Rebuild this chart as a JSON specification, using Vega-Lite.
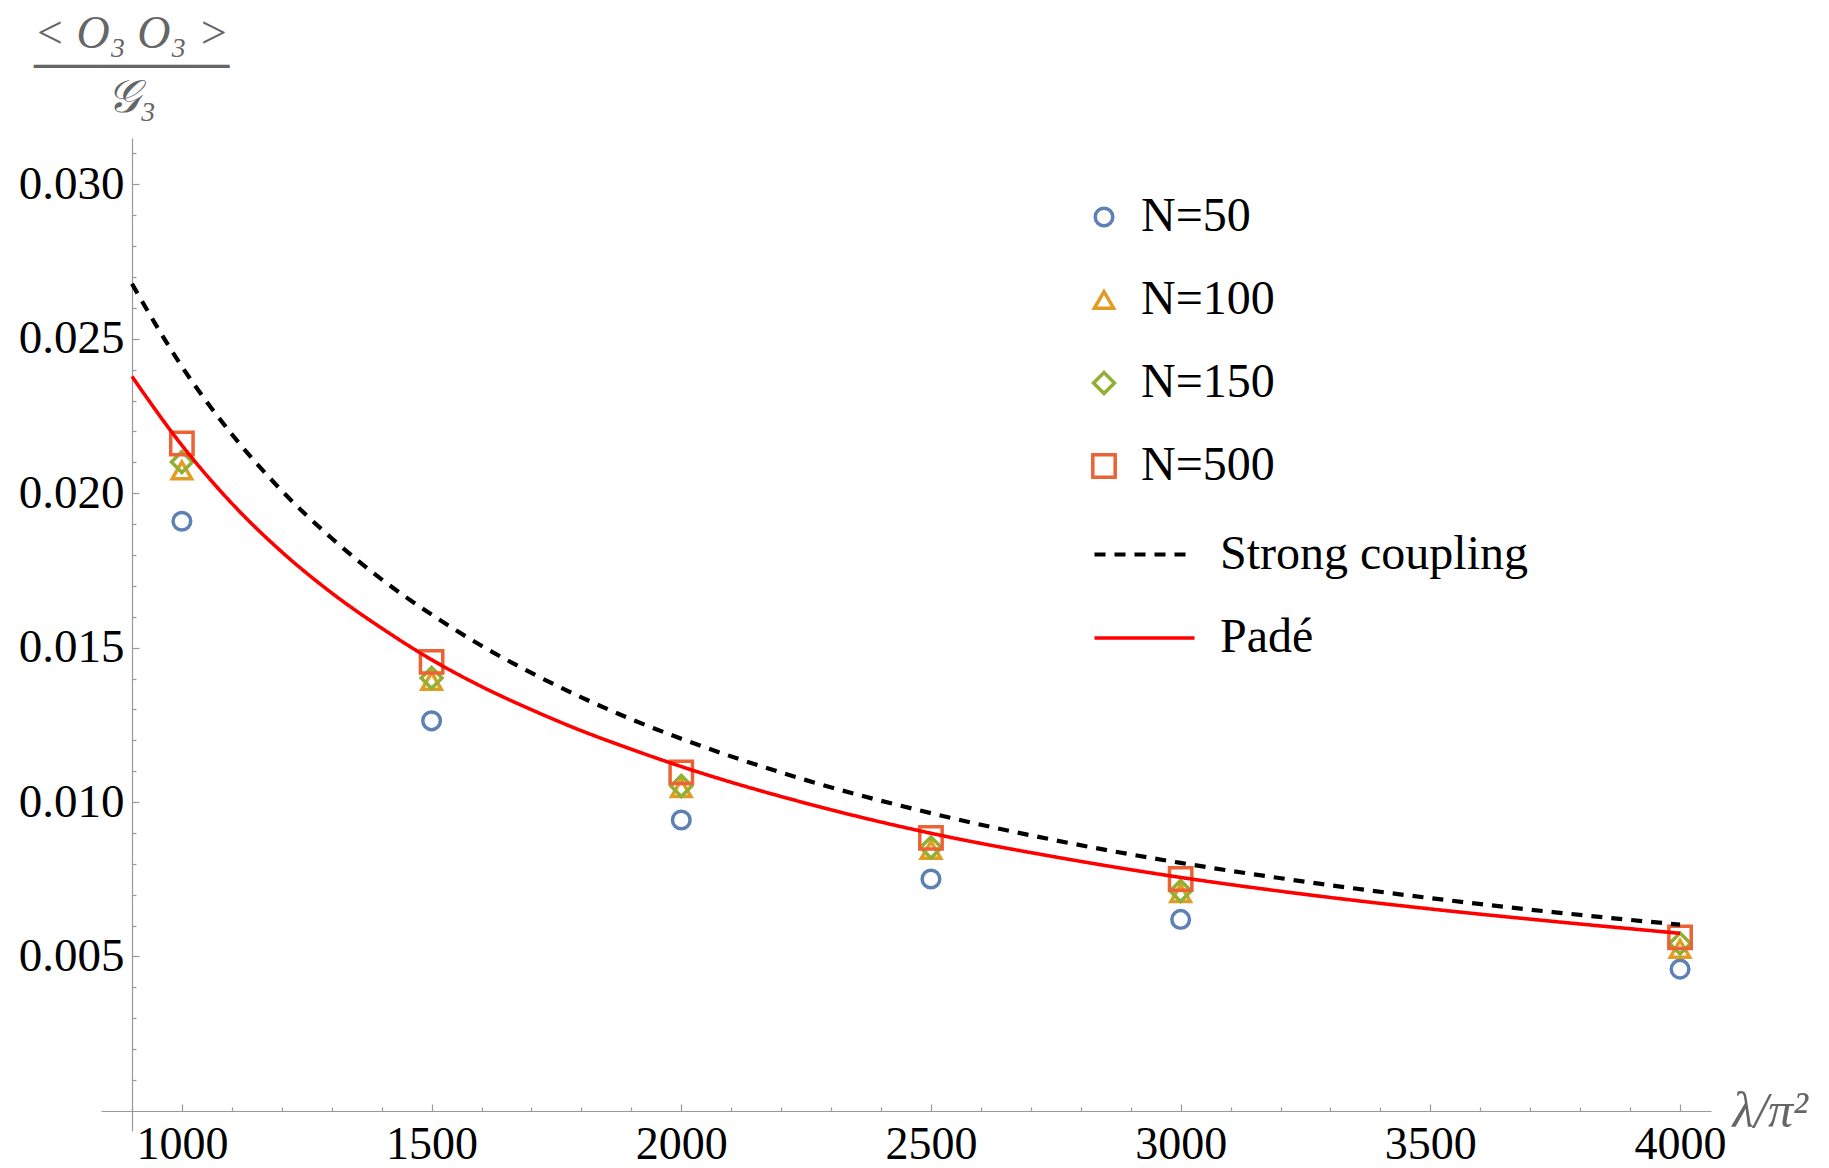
{
  "$schema": "https://vega.github.io/schema/vega-lite/v6.json",
  "width": 1610,
  "height": 993,
  "autosize": {"type": "none"},
  "padding": {"left": 101, "top": 138, "right": 118, "bottom": 37},
  "background": "white",
  "config": {"view": {"stroke": null}, "font": "Liberation Serif"},
  "datasets": {
    "pts": [
      {"lam": 1000, "val": 0.01909, "series": "N=50"},
      {"lam": 1500, "val": 0.01263, "series": "N=50"},
      {"lam": 2000, "val": 0.00942, "series": "N=50"},
      {"lam": 2500, "val": 0.00751, "series": "N=50"},
      {"lam": 3000, "val": 0.0062, "series": "N=50"},
      {"lam": 4000, "val": 0.00459, "series": "N=50"},
      {"lam": 1000, "val": 0.02074, "series": "N=100"},
      {"lam": 1500, "val": 0.01392, "series": "N=100"},
      {"lam": 2000, "val": 0.01045, "series": "N=100"},
      {"lam": 2500, "val": 0.00845, "series": "N=100"},
      {"lam": 3000, "val": 0.00705, "series": "N=100"},
      {"lam": 4000, "val": 0.00525, "series": "N=100"},
      {"lam": 1000, "val": 0.02101, "series": "N=150"},
      {"lam": 1500, "val": 0.01402, "series": "N=150"},
      {"lam": 2000, "val": 0.01052, "series": "N=150"},
      {"lam": 2500, "val": 0.00853, "series": "N=150"},
      {"lam": 3000, "val": 0.00712, "series": "N=150"},
      {"lam": 4000, "val": 0.00542, "series": "N=150"},
      {"lam": 1000, "val": 0.02161, "series": "N=500"},
      {"lam": 1500, "val": 0.01454, "series": "N=500"},
      {"lam": 2000, "val": 0.01096, "series": "N=500"},
      {"lam": 2500, "val": 0.00884, "series": "N=500"},
      {"lam": 3000, "val": 0.00751, "series": "N=500"},
      {"lam": 4000, "val": 0.00562, "series": "N=500"}
    ],
    "curves": [
      {"lam": 900, "val": 0.02678, "curve": "Strong coupling"},
      {"lam": 1000, "val": 0.0241, "curve": "Strong coupling"},
      {"lam": 1100, "val": 0.02191, "curve": "Strong coupling"},
      {"lam": 1200, "val": 0.02008, "curve": "Strong coupling"},
      {"lam": 1300, "val": 0.01854, "curve": "Strong coupling"},
      {"lam": 1400, "val": 0.01721, "curve": "Strong coupling"},
      {"lam": 1500, "val": 0.01607, "curve": "Strong coupling"},
      {"lam": 1600, "val": 0.01506, "curve": "Strong coupling"},
      {"lam": 1700, "val": 0.01418, "curve": "Strong coupling"},
      {"lam": 1800, "val": 0.01339, "curve": "Strong coupling"},
      {"lam": 1900, "val": 0.01268, "curve": "Strong coupling"},
      {"lam": 2000, "val": 0.01205, "curve": "Strong coupling"},
      {"lam": 2250, "val": 0.01071, "curve": "Strong coupling"},
      {"lam": 2500, "val": 0.00964, "curve": "Strong coupling"},
      {"lam": 2750, "val": 0.00876, "curve": "Strong coupling"},
      {"lam": 3000, "val": 0.00803, "curve": "Strong coupling"},
      {"lam": 3250, "val": 0.00742, "curve": "Strong coupling"},
      {"lam": 3500, "val": 0.00689, "curve": "Strong coupling"},
      {"lam": 3750, "val": 0.00643, "curve": "Strong coupling"},
      {"lam": 4000, "val": 0.00603, "curve": "Strong coupling"},
      {"lam": 900, "val": 0.02378, "curve": "Padé"},
      {"lam": 1000, "val": 0.02155, "curve": "Padé"},
      {"lam": 1100, "val": 0.01967, "curve": "Padé"},
      {"lam": 1200, "val": 0.0181, "curve": "Padé"},
      {"lam": 1300, "val": 0.01677, "curve": "Padé"},
      {"lam": 1400, "val": 0.01563, "curve": "Padé"},
      {"lam": 1500, "val": 0.01461, "curve": "Padé"},
      {"lam": 1600, "val": 0.01374, "curve": "Padé"},
      {"lam": 1700, "val": 0.01299, "curve": "Padé"},
      {"lam": 1800, "val": 0.01231, "curve": "Padé"},
      {"lam": 1900, "val": 0.01171, "curve": "Padé"},
      {"lam": 2000, "val": 0.01115, "curve": "Padé"},
      {"lam": 2250, "val": 0.00996, "curve": "Padé"},
      {"lam": 2500, "val": 0.00899, "curve": "Padé"},
      {"lam": 2750, "val": 0.00822, "curve": "Padé"},
      {"lam": 3000, "val": 0.00756, "curve": "Padé"},
      {"lam": 3250, "val": 0.00701, "curve": "Padé"},
      {"lam": 3500, "val": 0.00654, "curve": "Padé"},
      {"lam": 3750, "val": 0.00613, "curve": "Padé"},
      {"lam": 4000, "val": 0.00575, "curve": "Padé"}
    ]
  },
  "layer": [
    {
      "data": {"name": "pts"},
      "mark": {"type": "point", "opacity": 0},
      "encoding": {
        "x": {
          "field": "lam", "type": "quantitative",
          "scale": {"domain": [838, 4062], "nice": false, "zero": false},
          "axis": {
            "orient": "bottom", "offset": -20,
            "values": [900, 1100, 1200, 1300, 1400, 1600, 1700, 1800, 1900, 2100, 2200, 2300, 2400, 2600, 2700, 2800, 2900, 3100, 3200, 3300, 3400, 3600, 3700, 3800, 3900],
            "labels": false, "domain": false, "grid": false, "ticks": true,
            "tickSize": -4, "tickColor": "#999999", "tickWidth": 1.2, "title": null
          }
        },
        "y": {
          "field": "val", "type": "quantitative",
          "scale": {"domain": [-0.00065, 0.0315], "nice": false, "zero": false},
          "axis": {
            "orient": "left", "offset": -31,
            "values": [0.001, 0.002, 0.003, 0.004, 0.006, 0.007, 0.008, 0.009, 0.011, 0.012, 0.013, 0.014, 0.016, 0.017, 0.018, 0.019, 0.021, 0.022, 0.023, 0.024, 0.026, 0.027, 0.028, 0.029, 0.031],
            "labels": false, "domain": false, "grid": false, "ticks": true,
            "tickSize": -4, "tickColor": "#999999", "tickWidth": 1.2, "title": null
          }
        }
      }
    },
    {
      "data": {"name": "pts"},
      "mark": {"type": "point", "filled": false, "strokeWidth": 3.5, "opacity": 1},
      "encoding": {
        "x": {
          "field": "lam", "type": "quantitative",
          "scale": {"domain": [838, 4062], "nice": false, "zero": false},
          "axis": {
            "orient": "bottom", "offset": -20,
            "values": [1000, 1500, 2000, 2500, 3000, 3500, 4000],
            "format": "d", "labelFont": "Liberation Serif", "labelFontSize": 46, "labelColor": "#000000",
            "labelPadding": 18, "labelFlush": false, "labelOverlap": false,
            "tickSize": -7, "tickColor": "#999999", "tickWidth": 1.2,
            "domainColor": "#999999", "domainWidth": 1.2, "grid": false,
            "title": "λ/π²", "titleFont": "Liberation Serif", "titleFontStyle": "italic", "titleFontWeight": "normal",
            "titleFontSize": 50, "titleColor": "#666666", "titleX": 1631, "titleY": 15,
            "titleAlign": "left", "titleBaseline": "alphabetic", "titleAngle": 0
          }
        },
        "y": {
          "field": "val", "type": "quantitative",
          "scale": {"domain": [-0.00065, 0.0315], "nice": false, "zero": false},
          "axis": {
            "orient": "left", "offset": -31,
            "values": [0.005, 0.01, 0.015, 0.02, 0.025, 0.03],
            "format": ".3f", "labelFont": "Liberation Serif", "labelFontSize": 47, "labelColor": "#000000",
            "labelPadding": 15, "labelFlush": false, "labelOverlap": false,
            "tickSize": -7, "tickColor": "#999999", "tickWidth": 1.2,
            "domainColor": "#999999", "domainWidth": 1.2, "grid": false,
            "title": ["< O₃ O₃ >", "──────", "𝒢₃"], "titleFont": "Liberation Serif", "titleFontStyle": "italic", "titleFontWeight": "normal",
            "titleFontSize": 46, "titleColor": "#666666", "titleX": -1, "titleY": -105,
            "titleAlign": "center", "titleBaseline": "middle", "titleAngle": 0, "titleLineHeight": 32
          }
        },
        "color": {
          "field": "series", "type": "nominal",
          "scale": {"domain": ["N=50", "N=100", "N=150", "N=500"], "range": ["#5E81B5", "#E19C24", "#8FB032", "#EB6235"]},
          "legend": {
            "orient": "none", "legendX": 979, "legendY": 55, "title": null, "padding": 0,
            "labelFont": "Liberation Serif", "labelFontSize": 48, "labelColor": "#000000",
            "labelOffset": 13, "rowPadding": 35, "symbolStrokeWidth": 3.5, "labelLimit": 500
          }
        },
        "shape": {
          "field": "series", "type": "nominal",
          "scale": {"domain": ["N=50", "N=100", "N=150", "N=500"], "range": ["circle", "triangle-up", "diamond", "square"]}
        },
        "size": {
          "field": "series", "type": "nominal",
          "scale": {"domain": ["N=50", "N=100", "N=150", "N=500"], "range": [310, 500, 500, 300]}
        }
      }
    },
    {
      "data": {"name": "curves"},
      "mark": {"type": "line", "interpolate": "monotone"},
      "encoding": {
        "x": {"field": "lam", "type": "quantitative", "scale": {"domain": [838, 4062], "nice": false, "zero": false}, "axis": null},
        "y": {"field": "val", "type": "quantitative", "scale": {"domain": [-0.00065, 0.0315], "nice": false, "zero": false}, "axis": null},
        "color": {
          "field": "curve", "type": "nominal",
          "scale": {"domain": ["Strong coupling", "Padé"], "range": ["#000000", "#FF0000"]},
          "legend": {
            "orient": "none", "legendX": 991, "legendY": 364, "title": null, "padding": 0,
            "labelFont": "Liberation Serif", "labelFontSize": 48, "labelColor": "#000000",
            "labelOffset": 23, "rowPadding": 7, "symbolType": "stroke", "symbolSize": 10000,
            "symbolStrokeWidth": 4, "labelLimit": 600
          }
        },
        "strokeDash": {
          "field": "curve", "type": "nominal",
          "scale": {"domain": ["Strong coupling", "Padé"], "range": [[11, 9], [1, 0]]}
        },
        "strokeWidth": {
          "field": "curve", "type": "nominal",
          "scale": {"domain": ["Strong coupling", "Padé"], "range": [4.2, 3.6]},
          "legend": null
        }
      }
    }
  ],
  "resolve": {
    "scale": {"color": "independent", "shape": "independent", "size": "independent", "strokeDash": "independent", "strokeWidth": "independent"},
    "axis": {"x": "independent", "y": "independent"}
  }
}
